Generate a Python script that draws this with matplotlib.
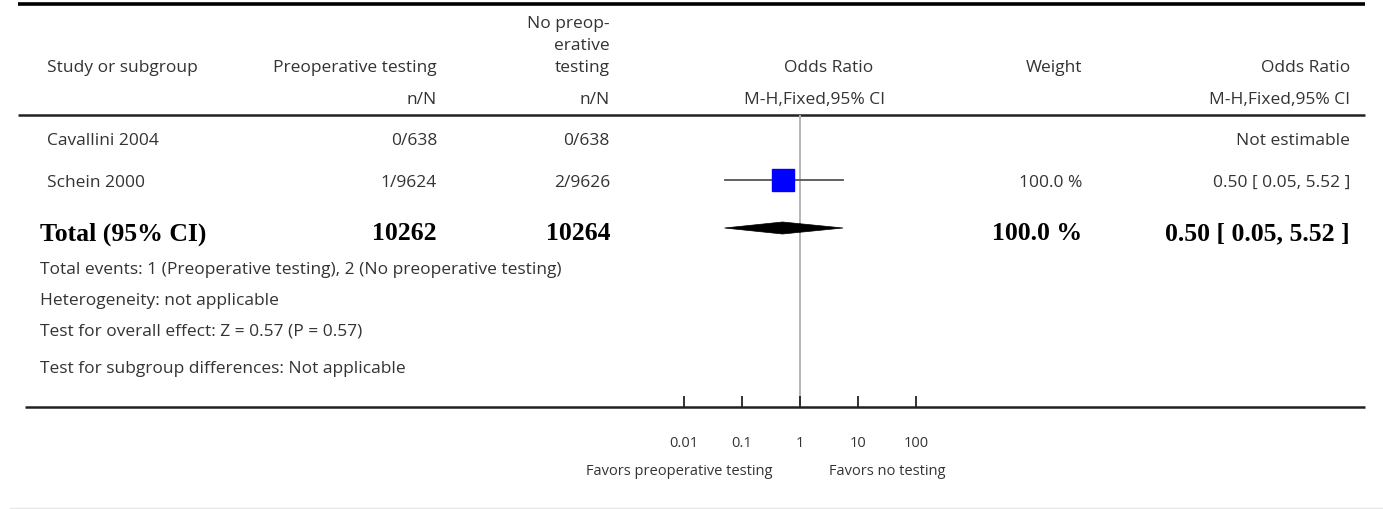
import numpy as np
import matplotlib
matplotlib.use("Agg")
import matplotlib.pyplot as plt
from matplotlib.patches import Polygon

# ---------------- data ----------------
studies = ["Cavallini 2004", "Schein 2000"]
events_pre = [0, 1]
total_pre = [638, 9624]
events_no = [0, 2]
total_no = [638, 9626]
or_vals = [np.nan, 0.50]
ci_low = [np.nan, 0.05]
ci_high = [np.nan, 5.52]
weights = [np.nan, 100.0]

total_label = "Total (95% CI)"
total_n_pre = 10262
total_n_no = 10264
total_or = 0.50
total_lo = 0.05
total_hi = 5.52
total_weight = 100.0

footer_lines = [
    "Total events: 1 (Preoperative testing), 2 (No preoperative testing)",
    "Heterogeneity: not applicable",
    "Test for overall effect: Z = 0.57 (P = 0.57)",
    "Test for subgroup differences: Not applicable",
]
tick_values = [0.01, 0.1, 1, 10, 100]
tick_labels = ["0.01", "0.1", "1", "10", "100"]
favors_left = "Favors preoperative testing"
favors_right = "Favors no testing"

# ---------------- layout ----------------
W, H = 1383, 510
fig = plt.figure(figsize=(W / 100, H / 100), dpi=100)
ov = fig.add_axes([0, 0, 1, 1])
ov.set_xlim(0, W)
ov.set_ylim(H, 0)
ov.axis("off")

SANS = ["Open Sans", "DejaVu Sans"]
SERIF = ["Liberation Serif", "DejaVu Serif"]
TC = "#333333"
FS = 12.5
FSB = 18.5

x_left = 47
x_pre = 437
x_no = 610
x_w = 1082
x_or = 1350

row_y = [139, 181]
total_y = 233
footer_y = [268, 299, 330, 367]

# horizontal rules
ov.plot([18, 1365], [5, 5], color="black", lw=2.6, solid_capstyle="butt")
ov.plot([18, 1365], [116, 116], color="#222222", lw=1.8, solid_capstyle="butt")
ov.plot([25, 1365], [408, 408], color="#222222", lw=1.8, solid_capstyle="butt")
ov.plot([10, 1383], [509, 509], color="#e6e6e6", lw=1.0)

def t(x, y, s, ha="left", dy=2, **kw):
    kw.setdefault("family", SANS)
    kw.setdefault("fontsize", FS)
    kw.setdefault("color", TC)
    ov.text(x, y + dy, s, ha=ha, va="center", **kw)

# header
t(x_left, 66, "Study or subgroup")
t(x_pre, 66, "Preoperative testing", ha="right")
t(x_pre, 98, "n/N", ha="right")
t(x_no, 22, "No preop-", ha="right")
t(x_no, 44, "erative", ha="right")
t(x_no, 66, "testing", ha="right")
t(x_no, 98, "n/N", ha="right")
t(829, 66, "Odds Ratio", ha="center")
t(815, 98, "M-H,Fixed,95% CI", ha="center")
t(x_w, 66, "Weight", ha="right")
t(x_or, 66, "Odds Ratio", ha="right")
t(x_or, 98, "M-H,Fixed,95% CI", ha="right")

# study rows
for i, name in enumerate(studies):
    y = row_y[i]
    t(x_left, y, name)
    t(x_pre, y, f"{events_pre[i]}/{total_pre[i]}", ha="right")
    t(x_no, y, f"{events_no[i]}/{total_no[i]}", ha="right")
    if np.isnan(or_vals[i]):
        t(x_or, y, "Not estimable", ha="right")
    else:
        t(x_w, y, f"{weights[i]:.1f} %", ha="right")
        t(x_or, y, f"{or_vals[i]:.2f} [ {ci_low[i]:.2f}, {ci_high[i]:.2f} ]", ha="right")

# total row
bkw = dict(family=SERIF, fontsize=FSB, fontweight="bold", color="black", dy=1)
t(40, total_y, total_label, **bkw)
t(x_pre, total_y, f"{total_n_pre}", ha="right", **bkw)
t(x_no, total_y, f"{total_n_no}", ha="right", **bkw)
t(x_w, total_y, f"{total_weight:.1f} %", ha="right", **bkw)
t(x_or, total_y, f"{total_or:.2f} [ {total_lo:.2f}, {total_hi:.2f} ]", ha="right", **bkw)

for s, y in zip(footer_lines, footer_y):
    t(40, y, s)

t(772, 470, favors_left, ha="right", fontsize=10.5)
t(829, 470, favors_right, ha="left", fontsize=10.5)

# ---------------- forest axes ----------------
fx0, fx1 = 626, 974
fy_top, fy_bot = 116, 408
fa = fig.add_axes([fx0 / W, (H - fy_bot) / H, (fx1 - fx0) / W, (fy_bot - fy_top) / H])
fa.set_xscale("log")
fa.set_xlim(1e-3, 1e3)
fa.set_ylim(fy_bot, fy_top)
fa.patch.set_alpha(0)
for sp in fa.spines.values():
    sp.set_visible(False)
fa.set_yticks([])
fa.set_xticks(tick_values)
fa.set_xticklabels(tick_labels, family=SANS, fontsize=10.5, color=TC)
fa.minorticks_off()
fa.tick_params(axis="x", direction="in", length=8, width=1.3, color="#222222", pad=20)

fa.axvline(1, color="#b0b0b0", lw=1.3, zorder=1)

for i in range(len(studies)):
    if np.isnan(or_vals[i]):
        continue
    y = row_y[i]
    fa.plot([ci_low[i], ci_high[i]], [y, y], color="#555555", lw=1.3, zorder=2)
    fa.plot([or_vals[i]], [y], marker="s", markersize=16.5, color="#0000ff",
            markeredgecolor="#0000ff", zorder=3)

dd = 6
dc = total_y - 4
diamond = Polygon([[total_lo, dc], [total_or, dc - dd],
                   [total_hi, dc], [total_or, dc + dd]],
                  closed=True, facecolor="black", edgecolor="black", lw=0.5, zorder=3)
fa.add_patch(diamond)

fig.savefig("out.png", dpi=100)
